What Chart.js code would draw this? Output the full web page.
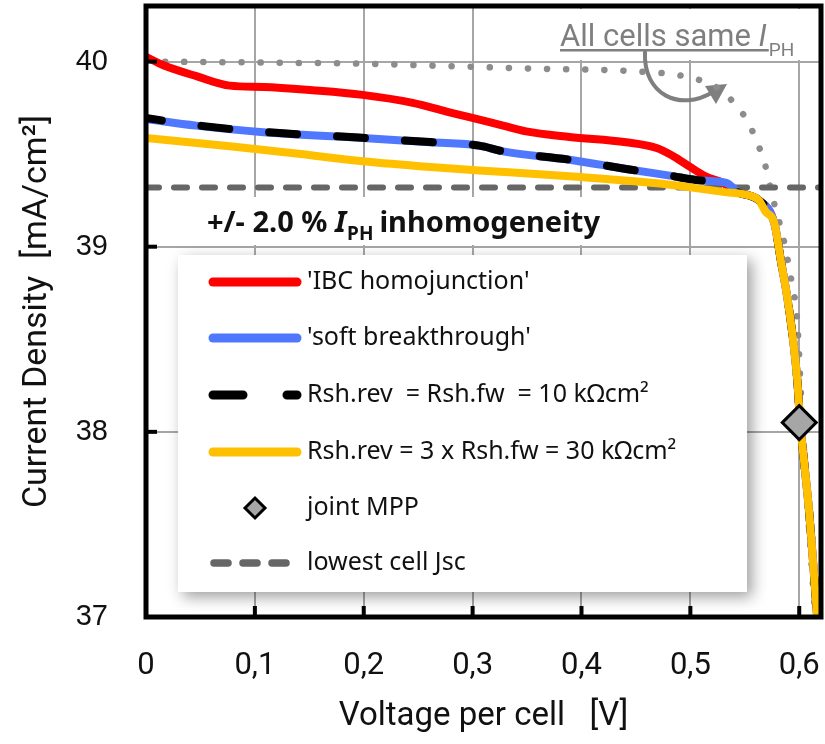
<!DOCTYPE html>
<html>
<head>
<meta charset="utf-8">
<script src="https://cdn.jsdelivr.net/npm/chart.js@4.4.1/dist/chart.umd.min.js"></script>
<style>
  html, body { margin: 0; padding: 0; background: #ffffff; }
  #wrap { width: 825px; height: 744px; position: relative; }
</style>
</head>
<body>
<div id="wrap"><canvas id="c" width="825" height="744"></canvas></div>
<script>
// ---------------- data ----------------
const xTickValues = [0, 0.1, 0.2, 0.3, 0.4, 0.5, 0.6];
const xTickLabels = ['0', '0,1', '0,2', '0,3', '0,4', '0,5', '0,6'];
const yTickValues = [37, 38, 39, 40];
const yTickLabels = ['37', '38', '39', '40'];

const seriesLabels = [
  "'IBC homojunction'",
  "'soft breakthrough'",
  "Rsh.rev  = Rsh.fw  = 10 k\u03A9cm\u00B2",
  "Rsh.rev = 3 x Rsh.fw = 30 k\u03A9cm\u00B2",
  "joint MPP",
  "lowest cell Jsc",
  "All cells same IPH"
];

// 'IBC homojunction'
const vIBC = [0, 0.016, 0.047, 0.077, 0.108, 0.153, 0.199, 0.245, 0.276, 0.297, 0.328, 0.349, 0.389, 0.441, 0.469, 0.484, 0.499, 0.514, 0.530, 0.545, 0.554, 0.563, 0.5771, 0.5835, 0.589, 0.5936, 0.5982, 0.6009, 0.6046, 0.6092, 0.6128, 0.6165];
const jIBC = [40.025, 39.98, 39.92, 39.87, 39.863, 39.845, 39.82, 39.777, 39.73, 39.70, 39.654, 39.623, 39.593, 39.564, 39.533, 39.49, 39.434, 39.38, 39.345, 39.29, 39.277, 39.25, 39.128, 38.912, 38.728, 38.534, 38.28, 38.048, 37.832, 37.562, 37.291, 36.999];

// 'soft breakthrough'
const vSoft = [0, 0.046, 0.108, 0.199, 0.261, 0.306, 0.328, 0.389, 0.441, 0.481, 0.511, 0.533, 0.545, 0.554, 0.563, 0.5771, 0.5835, 0.589, 0.5936, 0.5982, 0.6009, 0.6046, 0.6092, 0.6128, 0.6165];
const jSoft = [39.69, 39.654, 39.618, 39.587, 39.564, 39.546, 39.515, 39.47, 39.42, 39.384, 39.357, 39.345, 39.29, 39.277, 39.25, 39.128, 38.912, 38.728, 38.534, 38.28, 38.048, 37.832, 37.562, 37.291, 36.999];

// Rsh.rev = Rsh.fw = 10 kOhm cm2
const vRsh10 = [0, 0.046, 0.108, 0.199, 0.261, 0.306, 0.328, 0.389, 0.441, 0.481, 0.511, 0.533, 0.545, 0.554, 0.563, 0.5771, 0.5835, 0.589, 0.5936, 0.5982, 0.6009, 0.6046, 0.6092, 0.6128, 0.6165];
const jRsh10 = [39.695, 39.656, 39.62, 39.588, 39.565, 39.546, 39.515, 39.47, 39.42, 39.384, 39.357, 39.345, 39.29, 39.277, 39.25, 39.128, 38.912, 38.728, 38.534, 38.28, 38.048, 37.832, 37.562, 37.291, 36.999];

// Rsh.rev = 3 x Rsh.fw = 30 kOhm cm2
const vRsh30 = [0, 0.077, 0.138, 0.199, 0.261, 0.306, 0.389, 0.481, 0.530, 0.554, 0.563, 0.569, 0.5771, 0.5835, 0.589, 0.5936, 0.5982, 0.6009, 0.6046, 0.6092, 0.6128, 0.6165, 0.62];
const jRsh30 = [39.587, 39.542, 39.503, 39.461, 39.43, 39.412, 39.38, 39.335, 39.296, 39.277, 39.25, 39.19, 39.128, 38.912, 38.728, 38.534, 38.28, 38.048, 37.832, 37.562, 37.291, 36.999, 36.78];

// All cells same I_PH (dotted)
const vSame = [0, 0.1, 0.2, 0.297, 0.369, 0.423, 0.456, 0.478, 0.493, 0.511, 0.527, 0.540, 0.551, 0.559, 0.5651, 0.5706, 0.5743, 0.5786, 0.5832, 0.5878, 0.5908, 0.5939, 0.597, 0.5985, 0.6028, 0.6083, 0.6147];
const jSame = [40.0, 39.995, 39.988, 39.972, 39.96, 39.954, 39.945, 39.936, 39.922, 39.895, 39.85, 39.777, 39.693, 39.598, 39.506, 39.40, 39.297, 39.198, 39.099, 38.982, 38.883, 38.784, 38.676, 38.568, 38.064, 37.54, 37.0];

// lowest cell Jsc
const vJsc = [0, 0.62];
const jJsc = [39.32, 39.32];

// joint MPP
const vMPP = [0.6];
const jMPP = [38.05];

// ---------------- helpers ----------------
const pts = (xs, ys) => xs.map((x, i) => ({ x: x, y: ys[i] }));
const NARROW = 'Roboto, "Liberation Sans", sans-serif';
const ARIAL = '"Liberation Sans", Arial, sans-serif';
const LEGFONT = '"Noto Sans", Roboto, sans-serif';

const datasets = [
  { label: seriesLabels[4], data: pts(vMPP, jMPP), showLine: false, pointStyle: 'rectRot',
    pointRadius: 17, pointBorderWidth: 3, pointBackgroundColor: '#a6a6a6', pointBorderColor: '#000000',
    legendRank: 4, kind: 'marker' },
  { label: seriesLabels[3], data: pts(vRsh30, jRsh30), borderColor: '#ffc000', borderWidth: 8,
    pointRadius: 0, cubicInterpolationMode: 'monotone', borderCapStyle: 'round', borderJoinStyle: 'round',
    legendRank: 3, kind: 'line' },
  { label: seriesLabels[2], data: pts(vRsh10, jRsh10), borderColor: '#000000', borderWidth: 8,
    borderDash: [28, 40], borderDashOffset: 12, borderCapStyle: 'round',
    pointRadius: 0, cubicInterpolationMode: 'monotone', legendRank: 2, kind: 'line' },
  { label: seriesLabels[1], data: pts(vSoft, jSoft), borderColor: '#5078ff', borderWidth: 8,
    pointRadius: 0, cubicInterpolationMode: 'monotone', borderCapStyle: 'round', borderJoinStyle: 'round',
    legendRank: 1, kind: 'line' },
  { label: seriesLabels[0], data: pts(vIBC, jIBC), borderColor: '#ff0000', borderWidth: 8,
    pointRadius: 0, cubicInterpolationMode: 'monotone', borderCapStyle: 'round', borderJoinStyle: 'round',
    legendRank: 0, kind: 'line' },
  { label: seriesLabels[5], data: pts(vJsc, jJsc), borderColor: '#666666', borderWidth: 6,
    borderDash: [13, 15], borderCapStyle: 'round', pointRadius: 0, legendRank: 5, kind: 'line' },
  { label: seriesLabels[6], data: pts(vSame, jSame), borderColor: '#8c8c8c', borderWidth: 6.5,
    borderDash: [0.1, 19], borderCapStyle: 'round', pointRadius: 0, cubicInterpolationMode: 'monotone',
    kind: 'line' }
];

// ---------------- decoration plugin ----------------
const decor = {
  id: 'decor',
  beforeDatasetsDraw(chart) {
    const ctx = chart.ctx;
    ctx.save();

    // "All cells same I_PH" annotation box
    ctx.fillStyle = '#ffffff';
    ctx.fillRect(556, 9, 244, 51);
    ctx.fillStyle = '#7f7f7f';
    ctx.textBaseline = 'alphabetic';
    ctx.textAlign = 'left';
    ctx.font = '31px ' + NARROW;
    const t1 = 'All cells same ';
    ctx.fillText(t1, 560, 46);
    const w1 = ctx.measureText(t1).width;
    ctx.font = 'italic 31px ' + NARROW;
    ctx.fillText('I', 560 + w1, 46);
    const wI = ctx.measureText('I').width;
    ctx.font = '19px ' + NARROW;
    ctx.fillText('PH', 560 + w1 + wI + 2, 56);
    ctx.fillRect(560, 49, w1 + wI + 2, 2.5);

    // curved arrow
    ctx.strokeStyle = '#7f7f7f';
    ctx.lineWidth = 4;
    ctx.lineCap = 'round';
    ctx.beginPath();
    ctx.moveTo(645, 52);
    ctx.bezierCurveTo(643, 95, 680, 112, 713, 92);
    ctx.stroke();
    ctx.fillStyle = '#7f7f7f';
    ctx.beginPath();
    ctx.moveTo(727, 84);
    ctx.lineTo(705, 86);
    ctx.lineTo(716, 104);
    ctx.closePath();
    ctx.fill();

    // inhomogeneity label box
    ctx.fillStyle = '#ffffff';
    ctx.fillRect(149, 197, 463, 48);
    ctx.fillStyle = '#111111';
    ctx.font = 'bold 29px ' + LEGFONT;
    let x0 = 207;
    const a = '+/- 2.0 % ';
    ctx.fillText(a, x0, 232);
    x0 += ctx.measureText(a).width;
    ctx.font = 'italic bold 29px ' + LEGFONT;
    ctx.fillText('I', x0, 232);
    x0 += ctx.measureText('I').width + 1;
    ctx.font = 'bold 19px ' + LEGFONT;
    ctx.fillText('PH', x0, 240);
    x0 += ctx.measureText('PH').width + 6;
    ctx.font = 'bold 29px ' + LEGFONT;
    ctx.fillText('inhomogeneity', x0, 232);

    // legend box
    const L = 178, T = 255, R = 747, B = 592;
    ctx.save();
    ctx.shadowColor = 'rgba(0,0,0,0.38)';
    ctx.shadowBlur = 14;
    ctx.shadowOffsetX = 5;
    ctx.shadowOffsetY = 5;
    ctx.fillStyle = '#ffffff';
    ctx.fillRect(L, T, R - L, B - T);
    ctx.restore();

    const rowsY = [282, 338, 395, 452, 508, 563];
    const items = chart.data.datasets.filter(d => d.legendRank !== undefined)
      .sort((p, q) => p.legendRank - q.legendRank);
    items.forEach((d, i) => {
      const y = rowsY[i];
      ctx.save();
      if (d.kind === 'marker') {
        const cx = 255, r = 10;
        ctx.beginPath();
        ctx.moveTo(cx - r, y); ctx.lineTo(cx, y - r); ctx.lineTo(cx + r, y); ctx.lineTo(cx, y + r);
        ctx.closePath();
        ctx.fillStyle = d.pointBackgroundColor;
        ctx.fill();
        ctx.lineWidth = 3;
        ctx.strokeStyle = d.pointBorderColor;
        ctx.stroke();
      } else {
        ctx.strokeStyle = d.borderColor;
        ctx.lineCap = 'round';
        ctx.lineWidth = 9;
        if (d.legendRank === 2) {
          ctx.setLineDash([30, 44]);
        } else if (d.legendRank === 5) {
          ctx.lineWidth = 7.5;
          ctx.setLineDash([14, 15]);
        }
        ctx.beginPath();
        ctx.moveTo(d.legendRank === 5 ? 214 : 213, y);
        ctx.lineTo(d.legendRank === 5 ? 288 : 297, y);
        ctx.stroke();
      }
      ctx.restore();
      ctx.fillStyle = '#111111';
      ctx.font = '25px ' + LEGFONT;
      ctx.textBaseline = 'middle';
      ctx.textAlign = 'left';
      ctx.fillText(d.label, 307, y);
    });
    ctx.restore();
  },
  afterDatasetsDraw(chart) {
    const ctx = chart.ctx;
    const a = chart.chartArea;
    const xs = chart.scales.x, ys = chart.scales.y;
    ctx.save();
    ctx.fillStyle = '#000000';
    xTickValues.forEach(v => {
      if (v === 0) return;
      const px = xs.getPixelForValue(v);
      ctx.fillRect(px - 2, a.bottom - 11, 4, 11);
    });
    yTickValues.forEach(v => {
      const py = ys.getPixelForValue(v);
      ctx.fillRect(a.left, py - 2, 11, 4);
    });
    ctx.strokeStyle = '#000000';
    ctx.lineWidth = 5;
    ctx.strokeRect(a.left, a.top, a.right - a.left, a.bottom - a.top);
    ctx.restore();
  }
};

const chart = new Chart(document.getElementById('c'), {
  type: 'line',
  data: { datasets: datasets },
  options: {
    responsive: false,
    animation: false,
    devicePixelRatio: 1,
    layout: { autoPadding: false, padding: { top: 6, right: 4, left: 0, bottom: 0 } },
    plugins: { legend: { display: false }, tooltip: { enabled: false } },
    scales: {
      x: {
        type: 'linear', min: 0, max: 0.62,
        afterBuildTicks: s => { s.ticks = xTickValues.map(v => ({ value: v })); },
        afterFit: s => { s.height = 127; s.paddingLeft = 0; s.paddingRight = 0; },
        ticks: {
          callback: (v, i) => xTickLabels[i],
          font: { family: NARROW, size: 31 }, color: '#111111',
          padding: 31, maxRotation: 0, autoSkip: false
        },
        grid: { color: c => (c.tick && c.tick.value === 0) ? 'rgba(0,0,0,0)' : '#a6a6a6', lineWidth: 2, drawTicks: false },
        border: { display: false },
        title: { display: true, text: 'Voltage per cell   [V]', font: { family: NARROW, size: 33 }, color: '#111111', padding: { top: 0, bottom: 7 } }
      },
      y: {
        type: 'linear', min: 37, max: 40.3,
        afterBuildTicks: s => { s.ticks = yTickValues.map(v => ({ value: v })); },
        afterFit: s => { s.width = 146; s.paddingTop = 0; s.paddingBottom = 0; },
        ticks: {
          callback: (v, i) => yTickLabels[i],
          font: { family: ARIAL, size: 29 }, color: '#111111', padding: 38
        },
        grid: { color: c => (c.tick && c.tick.value === 37) ? 'rgba(0,0,0,0)' : '#a6a6a6', lineWidth: 2, drawTicks: false },
        border: { display: false },
        title: { display: true, text: 'Current Density  [mA/cm\u00B2]', font: { family: NARROW, size: 34 }, color: '#111111', padding: { top: 17, bottom: 0 } }
      }
    }
  },
  plugins: [decor]
});
</script>
</body>
</html>
